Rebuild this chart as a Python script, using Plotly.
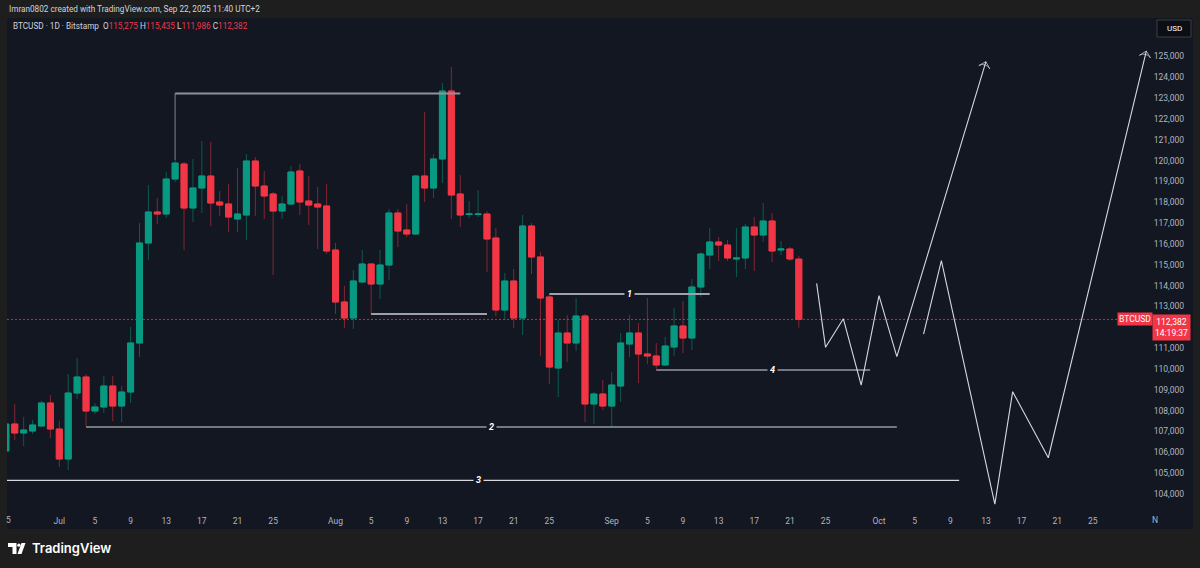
import plotly.graph_objects as go
import pandas as pd

# ---------------- data ----------------
start_date = "2025-06-25"
opens = [106064, 107360, 106928, 107024, 107264, 108368,
         107120, 105680, 108848, 109616, 107984, 108176, 109184, 108224, 108896, 111248,
         116048, 117536, 117440, 119120, 119840, 117728, 118688, 119264, 118016, 117920,
         117200, 117392, 119984, 118784, 118400, 117584, 117920, 119504, 118064, 117920, 117824,
         115712, 113216, 112448, 114176, 115040, 114080, 114992, 117488, 116672, 116480,
         119264, 118688, 120080, 123344, 118400, 117416, 117416, 117440, 116288, 112832,
         114224, 112448, 116864, 115376, 113456, 110048, 111728, 111248, 112544, 108320, 108800,
         108224, 109184, 111200, 111728, 110720, 110624, 110192, 111056, 112064, 111488,
         113936, 115472, 116096, 115952, 115280, 115328, 116816, 116432, 117104, 115712,
         115760, 115275]
highs = [107456, 108320, 107710, 107552, 108478, 108752,
         107518, 109760, 110528, 109760, 108368, 109664, 109664, 109184, 112016, 117008,
         118832, 118208, 119456, 120032, 119936, 120080, 120944, 120896, 118544, 118880,
         119648, 120320, 120176, 119504, 118496, 118304, 119744, 119840, 119264, 118736, 118880,
         116048, 113984, 114752, 115712, 115080, 115712, 117680, 117680, 117920, 119312,
         122336, 120320, 123728, 124496, 119312, 118064, 118592, 117584, 116768, 114608,
         114800, 117392, 117008, 115616, 113552, 112352, 112592, 113408, 112640, 108896, 109472,
         109856, 111728, 112592, 112208, 113408, 111248, 111536, 112928, 113264, 114320,
         115600, 116768, 116336, 116192, 116768, 116960, 117296, 117968, 117488, 116144,
         115856, 115435]
lows = [106016, 106592, 106304, 106880, 107216, 106688,
        105296, 105152, 108560, 107264, 107840, 107888, 107504, 107456, 108368, 110576,
        115232, 116960, 117248, 118976, 115712, 117056, 117488, 116864, 117344, 116576,
        116576, 116192, 117344, 117200, 114512, 117200, 117872, 117392, 116912, 115760, 115520,
        112640, 111968, 111920, 114128, 112592, 113360, 114272, 115856, 116336, 116432,
        118016, 118208, 118928, 117200, 116816, 117248, 117296, 114656, 112544, 112352,
        111968, 111632, 114560, 110624, 109280, 108656, 110336, 110864, 107456, 107360, 108032,
        107216, 108416, 110576, 109328, 110240, 110000, 110144, 110624, 110768, 110912,
        113456, 114800, 115184, 115184, 114416, 114800, 114704, 116096, 115136, 115472,
        115184, 111986]
closes = [107360, 106928, 107072, 107312, 108368, 107120,
          105680, 108848, 109616, 107984, 108176, 109184, 108224, 108896, 111248, 116048,
          117536, 117440, 119120, 119888, 117728, 118688, 119264, 117968, 117872, 117296,
          117440, 119984, 118784, 118304, 117584, 117920, 119456, 118016, 117872, 117776, 115664,
          113216, 112448, 114224, 115040, 114080, 114992, 117488, 116624, 116480, 119264,
          118688, 120080, 123344, 118352, 117392, 117440, 117440, 116240, 112832, 114224,
          112448, 116864, 115376, 113408, 110096, 111728, 111248, 112544, 108320, 108800, 108224,
          109232, 111248, 111728, 110720, 110624, 110192, 111104, 112064, 111488, 113936,
          115520, 116096, 115952, 115328, 115328, 116816, 116432, 117104, 115664, 115760,
          115280, 112382]

x_tick_dates = ["2025-07-01", "2025-07-05", "2025-07-09", "2025-07-13", "2025-07-17", "2025-07-21", "2025-07-25",
                "2025-08-01", "2025-08-05", "2025-08-09", "2025-08-13", "2025-08-17", "2025-08-21", "2025-08-25",
                "2025-09-01", "2025-09-05", "2025-09-09", "2025-09-13", "2025-09-17", "2025-09-21", "2025-09-25",
                "2025-10-01", "2025-10-05", "2025-10-09", "2025-10-13", "2025-10-17", "2025-10-21", "2025-10-25"]
x_tick_text = ["Jul", "5", "9", "13", "17", "21", "25",
               "Aug", "5", "9", "13", "17", "21", "25",
               "Sep", "5", "9", "13", "17", "21", "25",
               "Oct", "5", "9", "13", "17", "21", "25"]
y_tick_vals = [v for v in range(104000, 126000, 1000) if v != 112000]

# hand drawings (date, price)
zig1_dates = ["2025-09-24", "2025-09-25", "2025-09-27", "2025-09-29", "2025-10-01", "2025-10-03", "2025-10-13"]
zig1_prices = [114110, 111040, 112410, 109230, 113520, 110590, 124750]
zig2_dates = ["2025-10-06", "2025-10-08", "2025-10-14", "2025-10-16", "2025-10-20", "2025-10-31"]
zig2_prices = [111670, 115200, 103510, 108910, 105740, 125260]

top_box_dates = ["2025-07-14", "2025-07-14", "2025-08-15"]
top_box_prices = [120032, 123230, 123230]
aug_line_dates = ["2025-08-05", "2025-08-18"]
aug_line_price = 112640

level_names = ["1", "2", "3", "4"]
level_starts = ["2025-08-25", "2025-07-04", "2025-06-20", "2025-09-06"]
level_ends = ["2025-09-12", "2025-10-03", "2025-10-10", "2025-09-30"]
level_prices = [113600, 107216, 104650, 109952]
level_label_dates = ["2025-09-03", "2025-08-18 11:00", "2025-08-17", "2025-09-19"]

# ---------------- styling ----------------
GREEN = "#089981"
RED = "#f23645"
PANE = "#131722"
OUTER = "#1e1e1e"
TXT = "#b2b5be"
FONT = "Roboto, Liberation Sans, sans-serif"

W, H = 1200, 568
ML, MR, MT, MB = 7, 7, 18, 57
PW, PH = W - ML - MR, H - MT - MB


def px(x):
    return (x - ML) / PW


def py(y):
    return (H - MB - y) / PH


dates = pd.date_range(start_date, periods=len(opens), freq="D")
body_hi = [max(o, c) for o, c in zip(opens, closes)]
body_lo = [min(o, c) for o, c in zip(opens, closes)]

fig = go.Figure()

# wicks (dimmed)
fig.add_trace(go.Candlestick(
    x=dates, open=opens, high=highs, low=lows, close=closes,
    increasing=dict(line=dict(color="rgba(8,153,129,0.5)", width=1), fillcolor="rgba(8,153,129,0.5)"),
    decreasing=dict(line=dict(color="rgba(242,54,69,0.5)", width=1), fillcolor="rgba(242,54,69,0.5)"),
    hoverinfo="skip", showlegend=False))
# bodies
fig.add_trace(go.Candlestick(
    x=dates, open=opens, high=body_hi, low=body_lo, close=closes,
    increasing=dict(line=dict(color=GREEN, width=1), fillcolor=GREEN),
    decreasing=dict(line=dict(color=RED, width=1), fillcolor=RED),
    hoverinfo="skip", showlegend=False))

# drawings
fig.add_trace(go.Scatter(x=top_box_dates[:2], y=top_box_prices[:2], mode="lines",
                         line=dict(color="#5d606b", width=1.5), hoverinfo="skip", showlegend=False))
fig.add_trace(go.Scatter(x=top_box_dates[1:], y=top_box_prices[1:], mode="lines",
                         line=dict(color="#8f929a", width=2), hoverinfo="skip", showlegend=False))
fig.add_trace(go.Scatter(x=aug_line_dates, y=[aug_line_price] * 2, mode="lines",
                         line=dict(color="#cfd1d6", width=1.3), hoverinfo="skip", showlegend=False))
for name, s, e, p in zip(level_names, level_starts, level_ends, level_prices):
    col, wd = ("#9fa2aa", 1.8) if name == "1" else ("#d6d8dd", 1.2)
    fig.add_trace(go.Scatter(x=[s, e], y=[p, p], mode="lines",
                             line=dict(color=col, width=wd), hoverinfo="skip", showlegend=False))

for zd, zp in ((zig1_dates, zig1_prices), (zig2_dates, zig2_prices)):
    fig.add_trace(go.Scatter(
        x=zd, y=zp, mode="lines+markers",
        line=dict(color="#d6d8dd", width=1.1),
        marker=dict(symbol="arrow-wide-open", angleref="previous",
                    size=[0] * (len(zd) - 1) + [8], color="#d6d8dd",
                    line=dict(color="#d6d8dd", width=1)),
        hoverinfo="skip", showlegend=False))

annotations = []
for name, p, ld in zip(level_names, level_prices, level_label_dates):
    annotations.append(dict(x=ld, y=p, xref="x", yref="y", text=f"<b><i>{name}</i></b>",
                            xanchor="center", yanchor="middle",
                            showarrow=False, font=dict(size=9, color="#ffffff", family="Roboto"),
                            bgcolor=PANE, borderpad=2))

o, h, l, c = opens[-1], highs[-1], lows[-1], closes[-1]
red = lambda v: f"<span style='color:{RED}'>{v:,.0f}</span>"
annotations += [
    # partly clipped edge date labels ("25" of June at the left edge, "Nov" at the right)
    dict(x=px(8.5), y=py(520), xref="paper", yref="paper", text="5", showarrow=False,
         xanchor="center", yanchor="middle", font=dict(size=8.5, color=TXT, family=FONT)),
    dict(x="2025-11-01", y=py(520), xref="x", yref="paper", text="N", showarrow=False,
         xanchor="center", yanchor="middle", font=dict(size=8.5, color=TXT, family=FONT)),
    dict(x=px(7), y=py(9), xref="paper", yref="paper", xanchor="left", yanchor="middle",
         text="Imran0802 created with TradingView.com, Sep 22, 2025 11:40 UTC+2",
         showarrow=False, font=dict(size=8.2, color="#d1d4dc", family=FONT)),
    dict(x=px(11), y=py(26), xref="paper", yref="paper", xanchor="left", yanchor="middle",
         text=f"BTCUSD · 1D · Bitstamp  O{red(o)} H{red(h)} L{red(l)} C{red(c)}",
         showarrow=False, font=dict(size=8.2, color="#d1d4dc", family=FONT)),
    dict(x=px(1174), y=py(28.5), xref="paper", yref="paper", text="USD", showarrow=False,
         xanchor="center", yanchor="middle",
         font=dict(size=8, color="#ffffff", family=FONT)),
    dict(x=px(1153), y=c, xref="paper", yref="y", xanchor="right", yanchor="middle",
         text="BTCUSD", showarrow=False, bgcolor=RED, borderpad=1,
         font=dict(size=8.5, color="#ffffff", family=FONT)),
    dict(x=px(1191), y=c, xref="paper", yref="y", xanchor="right", yanchor="top", yshift=5,
         text=f"{c:,.0f}<br>14:19:37", showarrow=False, bgcolor=RED, borderpad=2, align="center",
         font=dict(size=8.5, color="#ffffff", family=FONT)),
    dict(x=px(30), y=py(548), xref="paper", yref="paper", xanchor="left", yanchor="middle",
         text="TradingView", showarrow=False,
         font=dict(size=13, color="#ffffff", family="Inter", weight=600)),
]


def pth(points):
    return "M " + " L ".join(f"{px(x):.5f},{py(y):.5f}" for x, y in points) + " Z"


shapes = [
    dict(type="rect", xref="paper", yref="paper", x0=0, x1=1, y0=py(529), y1=py(18),
         fillcolor=PANE, line=dict(width=0), layer="below"),
    dict(type="line", xref="paper", yref="y", x0=0, x1=px(1122), y0=c, y1=c,
         line=dict(color="rgba(242,54,69,0.85)", width=1, dash="2px,2px"), layer="below"),
    dict(type="rect", xref="paper", yref="paper", x0=px(1157), x1=px(1191), y0=py(37), y1=py(20),
         fillcolor="#0c0e13", line=dict(color="#3a3e48", width=1)),
    # TradingView logo glyph
    dict(type="path", xref="paper", yref="paper",
         path=pth([(8, 543), (16.5, 543), (16.5, 554), (12.5, 554), (12.5, 547), (8, 547)]),
         fillcolor="#ffffff", line=dict(width=0)),
    dict(type="circle", xref="paper", yref="paper", x0=px(17.3), x1=px(20.5), y0=py(546.8), y1=py(543.6),
         fillcolor="#ffffff", line=dict(width=0)),
    dict(type="path", xref="paper", yref="paper",
         path=pth([(17.5, 554), (21.5, 554), (25.5, 543), (21.5, 543)]),
         fillcolor="#ffffff", line=dict(width=0)),
]

fig.update_layout(
    width=W, height=H,
    margin=dict(l=ML, r=MR, t=MT, b=MB, autoexpand=False),
    paper_bgcolor=OUTER, plot_bgcolor=PANE,
    boxgap=0.2, boxgroupgap=0.15,
    showlegend=False, hovermode=False,
    annotations=annotations, shapes=shapes,
    xaxis=dict(type="date", range=["2025-06-25 03:07", "2025-11-05 05:46"],
               rangeslider=dict(visible=False), showgrid=False, zeroline=False, showline=False,
               tickmode="array", tickvals=x_tick_dates, ticktext=x_tick_text, ticks="",
               ticklabelstandoff=3, tickfont=dict(size=8.5, color=TXT, family=FONT), fixedrange=True),
    yaxis=dict(side="right", range=[103184, 126848], showgrid=False, zeroline=False, showline=False,
               tickmode="array", tickvals=y_tick_vals, tickformat=",d", ticks="",
               ticklabelposition="inside", ticklabelstandoff=6,
               tickfont=dict(size=8.5, color=TXT, family=FONT), fixedrange=True),
)

fig.write_html("out.html")
